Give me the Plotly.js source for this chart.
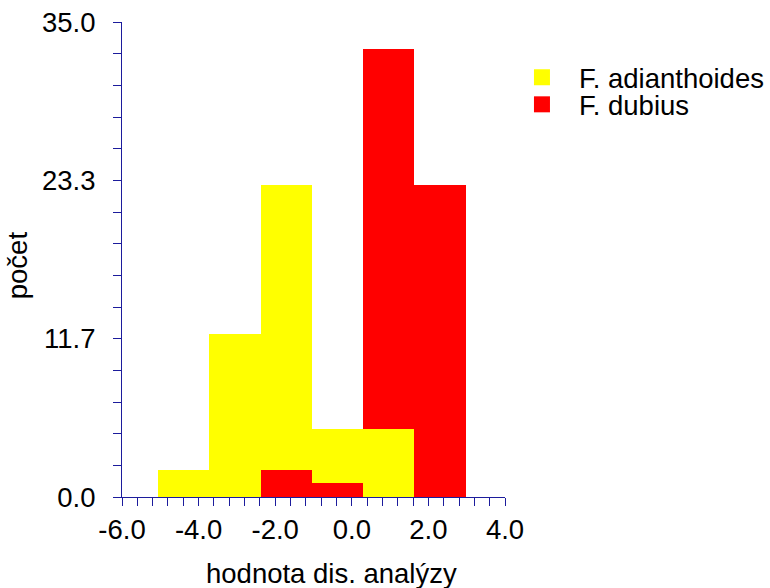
<!DOCTYPE html>
<html>
<head>
<meta charset="utf-8">
<script src="https://cdn.plot.ly/plotly-3.0.1.min.js"></script>
<style>
  html, body { margin: 0; padding: 0; background: #ffffff; }
  #chart { width: 770px; height: 588px; }
</style>
</head>
<body>
<div id="chart"></div>
<script>
// Histogram of discriminant-analysis scores for two species
const binCenters = [-4.38, -3.05, -1.71, -0.38, 0.96, 2.30];
const binWidth = 1.338;
const adianthoides = [2, 12, 23, 5, 5, 0];
const dubius = [0, 0, 2, 1, 33, 23];
const seriesNames = ['F. adianthoides', 'F. dubius'];
const seriesColors = ['#ffff00', '#ff0000'];

const xTickVals = [-6, -4, -2, 0, 2, 4];
const xTickText = ['-6.0', '-4.0', '-2.0', '0.0', '2.0', '4.0'];
const yTickVals = [0, 35 / 3, 70 / 3, 35];
const yTickText = ['0.0', '11.7', '23.3', '35.0'];

const FONT = 'Liberation Sans, Arial, sans-serif';
const AXIS = '#1c1c9c';

// In each bin the taller bar sits behind, the shorter one in front
const backY = [], backC = [], frontY = [], frontC = [];
binCenters.forEach((_, i) => {
  const a = adianthoides[i], d = dubius[i];
  if (a >= d) {
    backY.push(a); backC.push(seriesColors[0]);
    frontY.push(d); frontC.push(seriesColors[1]);
  } else {
    backY.push(d); backC.push(seriesColors[1]);
    frontY.push(a); frontC.push(seriesColors[0]);
  }
});

const traces = [
  { type: 'bar', x: binCenters, y: backY, width: binWidth,
    marker: { color: backC, line: { width: 0 } }, showlegend: false, hoverinfo: 'x+y' },
  { type: 'bar', x: binCenters, y: frontY, width: binWidth,
    marker: { color: frontC, line: { width: 0 } }, showlegend: false, hoverinfo: 'x+y' },
  { type: 'scatter', mode: 'markers', x: [null], y: [null], name: seriesNames[0],
    marker: { symbol: 'square', size: 16, color: seriesColors[0] }, legend: 'legend' },
  { type: 'scatter', mode: 'markers', x: [null], y: [null], name: seriesNames[1],
    marker: { symbol: 'square', size: 16, color: seriesColors[1] }, legend: 'legend2' }
];

const legendBase = {
  xanchor: 'left', yanchor: 'top', bgcolor: 'rgba(0,0,0,0)', borderwidth: 0,
  font: { family: FONT, size: 27.5, color: '#000000' }, itemwidth: 64, itemclick: false
};

const tickFont = { family: FONT, size: 27.5, color: '#000000' };

const layout = {
  width: 770, height: 588,
  margin: { l: 122, r: 0, t: 22, b: 91, pad: 0 },
  paper_bgcolor: '#ffffff', plot_bgcolor: '#ffffff',
  barmode: 'overlay', bargap: 0,
  font: { family: FONT, size: 27.5, color: '#000000' },
  xaxis: {
    domain: [0, 383 / 648],
    range: [-6, 4], tickmode: 'array', tickvals: xTickVals, ticktext: xTickText,
    showgrid: false, zeroline: false, showline: true, linecolor: AXIS, linewidth: 1,
    ticks: 'outside', ticklen: 8, tickcolor: AXIS, tickwidth: 1,
    minor: { dtick: 0.4, tick0: -6, ticks: 'outside', ticklen: 8, tickcolor: AXIS, tickwidth: 1, showgrid: false },
    tickfont: tickFont
  },
  yaxis: {
    range: [0, 35], tickmode: 'array', tickvals: yTickVals, ticktext: yTickText,
    showgrid: false, zeroline: false, showline: true, linecolor: AXIS, linewidth: 1,
    ticks: 'outside', ticklen: 8, tickcolor: AXIS, tickwidth: 1,
    minor: { dtick: 7 / 3, tick0: 0, ticks: 'outside', ticklen: 8, tickcolor: AXIS, tickwidth: 1, showgrid: false },
    tickfont: tickFont,
    ticklabelstandoff: 12
  },
  legend: Object.assign({}, legendBase, { x: 0.591, y: 0.935 }),
  legend2: Object.assign({}, legendBase, { x: 0.591, y: 0.878 }),
  annotations: [
    { text: 'hodnota dis. analýzy', xref: 'paper', yref: 'paper', x: 0.324, y: -0.162,
      xanchor: 'center', yanchor: 'middle', showarrow: false,
      font: { family: FONT, size: 27.5, color: '#000000' } },
    { text: 'počet', xref: 'paper', yref: 'paper', x: -0.162, y: 0.488, textangle: -90,
      xanchor: 'center', yanchor: 'middle', showarrow: false,
      font: { family: FONT, size: 27.5, color: '#000000' } }
  ]
};

Plotly.newPlot('chart', traces, layout, { displayModeBar: false, staticPlot: true });
</script>
</body>
</html>
